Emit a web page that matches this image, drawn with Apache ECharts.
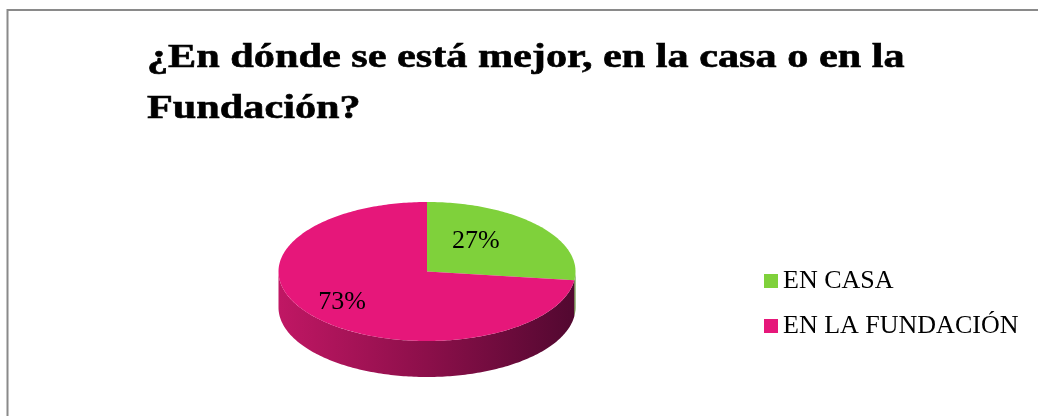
<!DOCTYPE html>
<html>
<head>
    <meta charset="UTF-8">
    <script src="https://cdn.jsdelivr.net/npm/echarts@6/dist/echarts.min.js"></script>
    <title>En dónde se está mejor</title>
    <style>
        html, body { margin: 0; padding: 0; background: #fff; }
        #chart { width: 1038px; height: 416px; }
    </style>
</head>
<body>
    <div id="chart"></div>
<script>
    // datos de la gráfica
    const categories = ['EN CASA', 'EN LA FUNDACIÓN'];
    const values = [27, 73];
    const titleLines = ['¿En dónde se está mejor, en la casa o en la', 'Fundación?'];

    const colors = ['#7fd13b', '#e6177a'];
    const sideColors = [
        [['#5e9e2a', 0], ['#4a7f20', 1]],
        [['#c01764', 0], ['#8c0f4a', 0.5], ['#520830', 1]]
    ];
    const FONT = '"Liberation Serif", "Times New Roman", serif';

    // geometría del pastel 3D (elipse + grosor)
    const CX = 427, CY = 271.5, RX = 148.5, RY = 69.5, DEPTH = 36;
    const total = values.reduce((a, b) => a + b, 0);

    function pt(a, dy) {
        return [CX + RX * Math.sin(a), CY - RY * Math.cos(a) + dy];
    }

    function arcPoints(a0, a1, dy) {
        const pts = [];
        const n = Math.max(2, Math.ceil((a1 - a0) / (Math.PI / 180)));
        for (let k = 0; k <= n; k++) {
            pts.push(pt(a0 + (a1 - a0) * k / n, dy));
        }
        return pts;
    }

    function renderSlice(idx) {
        return function (params, api) {
            const v = api.value(0), s = api.value(1);
            const a0 = s / total * Math.PI * 2;
            const a1 = (s + v) / total * Math.PI * 2;
            const children = [];

            // cara lateral visible (frente: de 90° a 270°)
            const lo = Math.max(a0, Math.PI / 2), hi = Math.min(a1, Math.PI * 1.5);
            if (hi > lo) {
                const side = arcPoints(lo, hi, 0).concat(arcPoints(lo, hi, DEPTH).reverse());
                children.push({
                    type: 'polygon',
                    z2: 1,
                    shape: { points: side },
                    style: {
                        fill: new echarts.graphic.LinearGradient(0, 0, 1, 0,
                            sideColors[idx].map(c => ({ offset: c[1], color: c[0] })))
                    }
                });
            }

            // cara superior
            children.push({
                type: 'polygon',
                z2: 2,
                shape: { points: [[CX, CY]].concat(arcPoints(a0, a1, 0)) },
                style: { fill: api.visual('color') }
            });

            // etiqueta de porcentaje
            const mid = (a0 + a1) / 2;
            children.push({
                type: 'text',
                z2: 3,
                x: CX + RX * 0.6 * Math.sin(mid) - 18,
                y: CY - RY * 0.66 * Math.cos(mid),
                style: {
                    text: Math.round(v / total * 100) + '%',
                    font: '26px ' + FONT,
                    fill: '#000',
                    align: 'center',
                    verticalAlign: 'middle'
                }
            });

            return { type: 'group', children: children };
        };
    }

    let acc = 0;
    const series = categories.map((name, i) => {
        const start = acc;
        acc += values[i];
        return {
            type: 'custom',
            name: name,
            coordinateSystem: 'none',
            silent: true,
            itemStyle: { color: colors[i] },
            data: [[values[i], start]],
            renderItem: renderSlice(i)
        };
    });

    var chart = echarts.init(document.getElementById('chart'));

    var option = {
        animation: false,
        backgroundColor: '#fff',
        graphic: [
            {
                type: 'rect',
                silent: true,
                shape: { x: 7.5, y: 10, width: 1200, height: 600 },
                style: { fill: null, stroke: '#8a8a8a', lineWidth: 2 }
            },
            {
                type: 'text',
                x: 147, y: 58, scaleX: 1.28,
                style: {
                    text: titleLines[0], font: 'bold 33px ' + FONT, fill: '#000',
                    stroke: '#000', lineWidth: 0.6,
                    align: 'left', verticalAlign: 'middle'
                }
            },
            {
                type: 'text',
                x: 147, y: 109, scaleX: 1.28,
                style: {
                    text: titleLines[1], font: 'bold 33px ' + FONT, fill: '#000',
                    stroke: '#000', lineWidth: 0.6,
                    align: 'left', verticalAlign: 'middle'
                }
            }
        ],
        legend: {
            orient: 'vertical',
            left: 764,
            top: 268,
            padding: 0,
            icon: 'rect',
            itemWidth: 14,
            itemHeight: 14,
            itemGap: 19,
            selectedMode: false,
            data: categories,
            textStyle: {
                fontFamily: FONT,
                fontSize: 26,
                lineHeight: 26,
                color: '#000'
            }
        },
        series: series
    };

    chart.setOption(option);
</script>
</body>
</html>
